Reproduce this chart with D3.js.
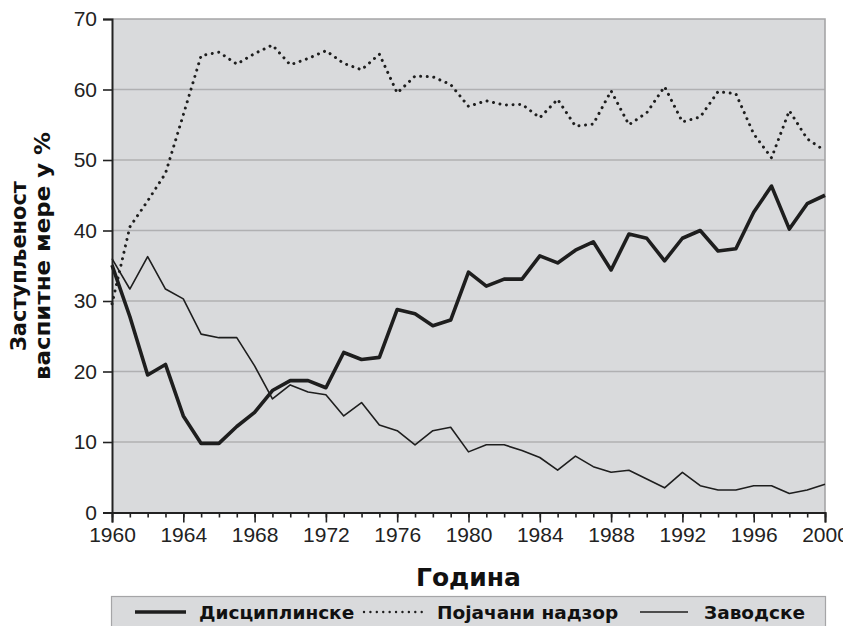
<!DOCTYPE html>
<html><head><meta charset="utf-8">
<script src="https://cdn.jsdelivr.net/npm/d3@7"></script>
<style>body{margin:0;background:#fff}svg{display:block}</style>
</head><body>
<script>
const years = d3.range(1960, 2001);
const disciplinske = [35.1,27.8,19.5,21.0,13.7,9.8,9.8,12.2,14.2,17.3,18.7,18.7,17.7,22.7,21.7,22.0,28.8,28.2,26.5,27.3,34.1,32.1,33.1,33.1,36.4,35.4,37.2,38.4,34.4,39.5,38.9,35.7,38.9,40.0,37.1,37.4,42.6,46.3,40.2,43.8,45.0];
const pojacaniNadzor = [29.6,40.5,44.2,48.1,56.4,64.8,65.3,63.6,65.1,66.3,63.5,64.4,65.5,63.7,62.8,65.0,59.5,61.9,61.8,60.7,57.6,58.4,57.8,57.9,56.0,58.6,54.8,55.1,59.8,55.0,56.7,60.4,55.4,56.1,59.7,59.4,53.7,50.3,57.0,53.0,51.3];
const zavodske = [36.0,31.7,36.3,31.7,30.3,25.3,24.8,24.8,20.8,16.1,18.1,17.1,16.7,13.7,15.6,12.4,11.6,9.6,11.6,12.1,8.6,9.6,9.6,8.8,7.8,6.0,8.0,6.5,5.7,6.0,4.75,3.5,5.7,3.8,3.2,3.2,3.8,3.8,2.7,3.2,4.0];
const yTicks = [0,10,20,30,40,50,60,70];
const xTickLabels = [1960,1964,1968,1972,1976,1980,1984,1988,1992,1996,2000];
const seriesNames = ["Дисциплинске","Појачани надзор","Заводске"];
const yTitle = ["Заступљеност","васпитне мере у %"];
const xTitle = "Година";

const W = 843, H = 626;
const L = 112, R = 825, T = 19, B = 512.5;
const svg = d3.select("body").append("svg").attr("width", W).attr("height", H);
const x = d3.scaleLinear().domain([1960, 2000]).range([L, R]);
const y = d3.scaleLinear().domain([0, 70]).range([B, T]);

svg.append("rect").attr("x", L).attr("y", T).attr("width", R - L).attr("height", B - T).attr("fill", "#d9dadc");

svg.append("g").selectAll("line").data(yTicks.filter(v => v > 0 && v < 70)).join("line")
  .attr("x1", L).attr("x2", R).attr("y1", d => y(d)).attr("y2", d => y(d))
  .attr("stroke", "#b0b0b2").attr("stroke-width", 1.6);
svg.append("path").attr("d", `M${L},${y(70)}H${R}V${B}`).attr("fill", "none").attr("stroke", "#a5a5a7").attr("stroke-width", 1.6);

const fontNum = "'Liberation Sans', Arial, sans-serif";
const yAxis = d3.axisLeft(y).tickValues(yTicks).tickSize(9).tickPadding(6).tickFormat(d3.format("d"));
const gy = svg.append("g").attr("transform", `translate(${L},0)`).call(yAxis);
gy.select(".domain").attr("stroke", "#222").attr("stroke-width", 2);
gy.selectAll(".tick line").attr("stroke", "#222").attr("stroke-width", 1.6);
gy.selectAll(".tick text").attr("font-family", fontNum).attr("font-size", 21).attr("fill", "#222");

const gxMinor = svg.append("g").attr("transform", `translate(0,${B})`)
  .call(d3.axisBottom(x).tickValues(years).tickSize(5).tickFormat(""));
gxMinor.select(".domain").remove();
gxMinor.selectAll(".tick line").attr("stroke", "#222").attr("stroke-width", 1.6);
const gx = svg.append("g").attr("transform", `translate(0,${B})`)
  .call(d3.axisBottom(x).tickValues(xTickLabels).tickSize(10).tickPadding(5).tickFormat(d3.format("d")));
gx.select(".domain").attr("stroke", "#222").attr("stroke-width", 2);
gx.selectAll(".tick line").attr("stroke", "#222").attr("stroke-width", 1.6);
gx.selectAll(".tick text").attr("font-family", fontNum).attr("font-size", 21).attr("fill", "#222");

const line = d3.line().x((d, i) => x(years[i])).y(d => y(d));
const clr = "#1e1e1e";
svg.append("path").datum(zavodske).attr("d", line).attr("fill", "none").attr("stroke", clr).attr("stroke-width", 1.6).attr("stroke-linejoin", "round");
svg.append("path").datum(pojacaniNadzor).attr("d", line).attr("fill", "none").attr("stroke", clr).attr("stroke-width", 3).attr("stroke-dasharray", "0.01,6.6").attr("stroke-linecap", "round");
svg.append("path").datum(disciplinske).attr("d", line).attr("fill", "none").attr("stroke", clr).attr("stroke-width", 3.6).attr("stroke-linejoin", "round");

const fontBold = "'DejaVu Sans', Verdana, sans-serif";
svg.append("text").attr("x", (L + R) / 2).attr("y", 586).attr("text-anchor", "middle")
  .attr("font-family", fontBold).attr("font-weight", "bold").attr("font-size", 25).attr("fill", "#111").text(xTitle);

svg.append("text").attr("transform", "translate(26,266) rotate(-90)").attr("text-anchor", "middle")
  .attr("font-family", fontBold).attr("font-weight", "bold").attr("font-size", 20.5).attr("fill", "#111")
  .attr("textLength", 170).attr("lengthAdjust", "spacingAndGlyphs").text(yTitle[0]);
svg.append("text").attr("transform", "translate(50,256) rotate(-90)").attr("text-anchor", "middle")
  .attr("font-family", fontBold).attr("font-weight", "bold").attr("font-size", 20.5).attr("fill", "#111")
  .attr("textLength", 248).attr("lengthAdjust", "spacingAndGlyphs").text(yTitle[1]);

svg.append("rect").attr("x", 111.5).attr("y", 596.5).attr("width", 714).attr("height", 40)
  .attr("fill", "#d9dadc").attr("stroke", "#a5a5a7").attr("stroke-width", 1.2);
const leg = [
  {x1: 135, x2: 186, tx: 199, w: 3.6, dash: null},
  {x1: 364, x2: 428, tx: 437, w: 2.4, dash: "0.01,6.4"},
  {x1: 640, x2: 688, tx: 704, w: 1.6, dash: null}
];
leg.forEach((d, i) => {
  const ln = svg.append("line").attr("x1", d.x1).attr("x2", d.x2).attr("y1", 612).attr("y2", 612)
    .attr("stroke", clr).attr("stroke-width", d.w);
  if (d.dash) ln.attr("stroke-dasharray", d.dash).attr("stroke-linecap", "round");
  svg.append("text").attr("x", d.tx).attr("y", 619).attr("font-family", fontBold).attr("font-weight", "bold")
    .attr("font-size", 18.5).attr("fill", "#111").text(seriesNames[i]);
});
</script>
</body></html>
